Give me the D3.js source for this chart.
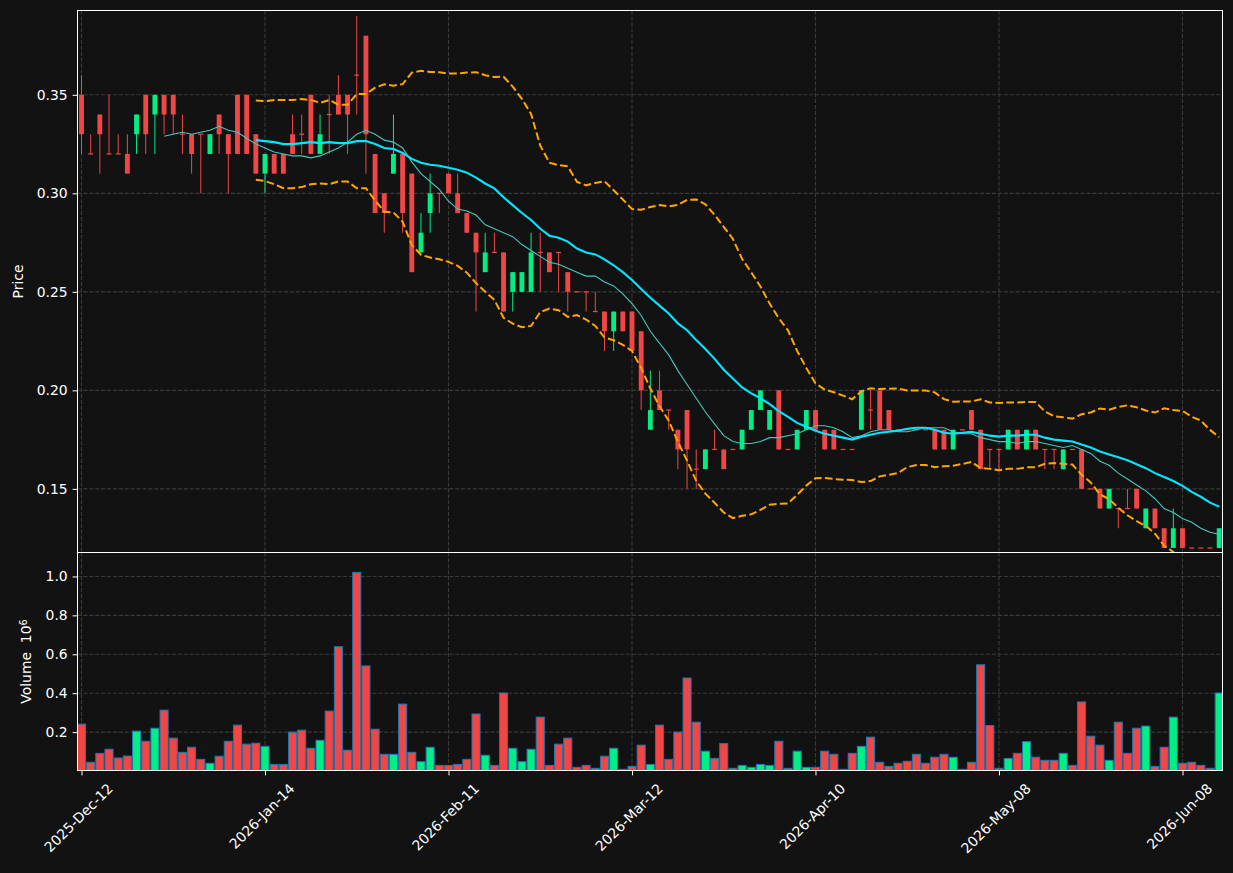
<!DOCTYPE html>
<html><head><meta charset="utf-8">
<script src="https://cdn.jsdelivr.net/npm/d3@7"></script>
<style>html,body{margin:0;padding:0;background:#121212;}svg{display:block;}</style>
</head><body><svg id="chart" width="1233" height="873"></svg>
<script>
// ---- DATA (daily candles, index 0 = 2025-Dec-12) ----
const opens  = [0.35,0.32,0.34,0.32,0.32,0.32,0.33,0.35,0.34,0.35, 0.35,0.33,0.33,0.33,0.32,0.34,0.33,0.35,0.35,0.33,
                0.31,0.32,0.32,0.33,0.33,0.35,0.32,0.34,0.35,0.35, 0.36,0.38,0.32,0.30,0.31,0.32,0.31,0.27,0.29,0.30,
                0.31,0.30,0.29,0.28,0.26,0.27,0.27,0.25,0.25,0.25, 0.27,0.27,0.27,0.26,0.25,0.25,0.24,0.24,0.23,0.24,
                0.24,0.23,0.18,0.20,0.19,0.18,0.19,0.16,0.16,0.17, 0.17,0.17,0.17,0.18,0.19,0.18,0.20,0.17,0.17,0.18,
                0.19,0.18,0.18,0.17,0.17,0.18,0.19,0.20,0.19,0.18, 0.18,0.18,0.18,0.18,0.18,0.17,0.18,0.19,0.18,0.17,
                0.17,0.17,0.18,0.17,0.18,0.17,0.17,0.16,0.17,0.17, 0.15,0.15,0.14,0.14,0.14,0.15,0.13,0.14,0.13,0.12,
                0.13,0.12,0.12,0.12,0.12];
const highs  = [0.36,0.33,0.34,0.35,0.33,0.33,0.34,0.35,0.35,0.35, 0.35,0.34,0.33,0.33,0.33,0.34,0.33,0.35,0.35,0.33,
                0.32,0.32,0.32,0.34,0.34,0.35,0.34,0.35,0.36,0.35, 0.39,0.38,0.32,0.30,0.34,0.32,0.31,0.29,0.31,0.30,
                0.31,0.31,0.29,0.28,0.28,0.28,0.27,0.26,0.26,0.28, 0.28,0.27,0.27,0.26,0.25,0.25,0.25,0.24,0.24,0.24,
                0.24,0.23,0.21,0.21,0.19,0.18,0.19,0.17,0.17,0.18, 0.17,0.17,0.18,0.19,0.20,0.19,0.20,0.17,0.18,0.19,
                0.19,0.18,0.18,0.17,0.17,0.20,0.20,0.20,0.19,0.18, 0.18,0.18,0.18,0.18,0.18,0.18,0.18,0.19,0.18,0.17,
                0.17,0.18,0.18,0.18,0.18,0.17,0.17,0.17,0.17,0.17, 0.15,0.15,0.15,0.14,0.15,0.15,0.14,0.14,0.13,0.14,
                0.13,0.12,0.12,0.12,0.13];
const lows   = [0.32,0.32,0.31,0.32,0.32,0.31,0.32,0.32,0.32,0.33, 0.33,0.32,0.31,0.30,0.32,0.32,0.30,0.32,0.32,0.31,
                0.30,0.31,0.31,0.32,0.32,0.32,0.32,0.32,0.34,0.32, 0.34,0.31,0.29,0.28,0.31,0.28,0.26,0.27,0.28,0.29,
                0.30,0.29,0.28,0.24,0.26,0.27,0.24,0.24,0.25,0.25, 0.25,0.26,0.25,0.24,0.25,0.24,0.24,0.22,0.22,0.23,
                0.22,0.19,0.18,0.19,0.18,0.16,0.15,0.15,0.16,0.17, 0.16,0.17,0.17,0.18,0.19,0.18,0.17,0.17,0.17,0.18,
                0.18,0.17,0.17,0.17,0.17,0.18,0.18,0.18,0.18,0.18, 0.18,0.18,0.18,0.17,0.17,0.17,0.18,0.18,0.16,0.16,
                0.16,0.17,0.17,0.17,0.17,0.16,0.16,0.16,0.17,0.15, 0.15,0.14,0.14,0.13,0.14,0.14,0.13,0.13,0.12,0.12,
                0.12,0.12,0.12,0.12,0.12];
const closes = [0.33,0.32,0.33,0.32,0.32,0.31,0.34,0.33,0.35,0.34, 0.34,0.33,0.32,0.33,0.33,0.33,0.32,0.32,0.32,0.31,
                0.32,0.31,0.31,0.32,0.33,0.32,0.33,0.34,0.34,0.34, 0.36,0.33,0.29,0.29,0.32,0.29,0.26,0.28,0.30,0.30,
                0.30,0.29,0.28,0.27,0.27,0.27,0.24,0.26,0.26,0.27, 0.27,0.26,0.27,0.25,0.25,0.25,0.24,0.23,0.24,0.23,
                0.22,0.20,0.19,0.19,0.19,0.17,0.17,0.16,0.17,0.17, 0.16,0.17,0.18,0.19,0.20,0.19,0.17,0.17,0.18,0.19,
                0.18,0.17,0.17,0.17,0.17,0.20,0.19,0.18,0.18,0.18, 0.18,0.18,0.18,0.17,0.17,0.18,0.18,0.18,0.16,0.17,
                0.17,0.18,0.17,0.18,0.17,0.17,0.17,0.17,0.17,0.15, 0.15,0.14,0.15,0.14,0.14,0.14,0.14,0.13,0.12,0.13,
                0.12,0.12,0.12,0.12,0.13];
// volume in millions of shares
const volumes = [0.241,0.045,0.091,0.112,0.067,0.077,0.205,0.153,0.220,0.313, 0.169,0.096,0.122,0.060,0.040,0.076,0.153,0.236,0.138,0.143,
                 0.127,0.034,0.034,0.200,0.210,0.117,0.158,0.308,0.639,0.107, 1.021,0.540,0.215,0.086,0.086,0.344,0.096,0.048,0.122,0.029,
                 0.029,0.034,0.060,0.293,0.081,0.029,0.401,0.117,0.048,0.112, 0.277,0.029,0.138,0.169,0.019,0.029,0.014,0.076,0.117,0.009,
                 0.024,0.133,0.034,0.236,0.060,0.200,0.478,0.251,0.102,0.065, 0.141,0.014,0.029,0.019,0.034,0.029,0.153,0.014,0.102,0.019,
                 0.019,0.102,0.086,0.009,0.091,0.127,0.174,0.045,0.024,0.040, 0.050,0.086,0.040,0.071,0.086,0.071,0.009,0.045,0.546,0.234,
                 0.014,0.065,0.091,0.151,0.071,0.055,0.055,0.091,0.029,0.355, 0.179,0.133,0.055,0.251,0.091,0.220,0.231,0.024,0.122,0.277,
                 0.040,0.045,0.029,0.014,0.401];
const tickIndex  = [0,20,40,60,80,100,120];
const tickLabels = ['2025-Dec-12','2026-Jan-14','2026-Feb-11','2026-Mar-12','2026-Apr-10','2026-May-08','2026-Jun-08'];
const priceTicks = [0.15,0.20,0.25,0.30,0.35];
const volumeTicks = [0.2,0.4,0.6,0.8,1.0];
const maShort = 10, maLong = 20, bbPeriod = 20, bbK = 2;

// ---- LAYOUT ----
const L = 77.5, R = 1222.5;
const pTop = 10.5, pBot = 552.5, vTop = 552.5, vBot = 770.5;
const UP = '#00ee84', DOWN = '#f04646';
const FONT = 'DejaVu Sans, sans-serif', FS = 13.9;
const svg = d3.select('#chart');
svg.append('rect').attr('width',1233).attr('height',873).attr('fill','#121212');

const n = closes.length;
const x = d3.scaleLinear().domain([-0.436, 124.36]).range([L, R]);
const step = x(1) - x(0);
const y = d3.scaleLinear().domain([0.1177, 0.3928]).range([pBot, pTop]);
const vmin = 0.3*d3.min(volumes), vmax = 1.1*d3.max(volumes);
const yv = d3.scaleLinear().domain([vmin, vmax]).range([vBot, vTop]);

const defs = svg.append('defs');
defs.append('clipPath').attr('id','pclip').append('rect').attr('x',L).attr('y',pTop).attr('width',R-L).attr('height',pBot-pTop);
defs.append('clipPath').attr('id','vclip').append('rect').attr('x',L).attr('y',vTop).attr('width',R-L).attr('height',vBot-vTop);

const gridC = '#3a3a3a';
function grid(g, ys, yscale, y0, y1){
  g.selectAll('.hg').data(ys).join('line').attr('x1',L).attr('x2',R)
    .attr('y1',d=>yscale(d)).attr('y2',d=>yscale(d))
    .attr('stroke',gridC).attr('stroke-width',1.1).attr('stroke-dasharray','4.1,1.8');
  g.selectAll('.vg').data(tickIndex).join('line').attr('class','vg').attr('y1',y0).attr('y2',y1)
    .attr('x1',d=>x(d)).attr('x2',d=>x(d))
    .attr('stroke',gridC).attr('stroke-width',1.1).attr('stroke-dasharray','4.1,1.8');
}
grid(svg.append('g'), priceTicks, y, pTop, pBot);
grid(svg.append('g'), volumeTicks, yv, vTop, vBot);

// ---- candles ----
const idx = d3.range(n);
const cg = svg.append('g').attr('clip-path','url(#pclip)');
const col = i => opens[i] < closes[i] ? UP : DOWN;
cg.selectAll('line.w').data(idx).join('line').attr('class','w')
  .attr('x1',i=>x(i)).attr('x2',i=>x(i)).attr('y1',i=>y(highs[i])).attr('y2',i=>y(lows[i]))
  .attr('stroke',col).attr('stroke-width',1);
const bw = step*0.53;
cg.selectAll('rect.b').data(idx).join('rect').attr('class','b')
  .attr('x',i=>x(i)-bw/2).attr('width',bw)
  .attr('y',i=>y(Math.max(opens[i],closes[i])) - (opens[i]===closes[i]?0.6:0))
  .attr('height',i=>Math.max(1.2, Math.abs(y(opens[i])-y(closes[i]))))
  .attr('fill',col);

// ---- moving averages & bollinger ----
function sma(arr,p){return arr.map((v,i)=> i<p-1?null:d3.mean(arr.slice(i-p+1,i+1)));}
function pstd(a){const m=d3.mean(a);return Math.sqrt(d3.mean(a.map(v=>(v-m)*(v-m))));}
const ma10 = sma(closes, maShort), ma20 = sma(closes, maLong);
const bbUp = closes.map((v,i)=> i<bbPeriod-1?null: ma20[i] + bbK*pstd(closes.slice(i-bbPeriod+1,i+1)));
const bbLo = closes.map((v,i)=> i<bbPeriod-1?null: ma20[i] - bbK*pstd(closes.slice(i-bbPeriod+1,i+1)));
const line = d3.line().defined(d=>d!=null).x((d,i)=>x(i)).y(d=>y(d));
cg.append('path').attr('d',line(ma10)).attr('fill','none').attr('stroke','#45c8bd').attr('stroke-width',1.1);
cg.append('path').attr('d',line(ma20)).attr('fill','none').attr('stroke','#00e8ff').attr('stroke-width',2.1);
[bbUp,bbLo].forEach(b=>cg.append('path').attr('d',line(b)).attr('fill','none').attr('stroke','#ffa500')
  .attr('stroke-width',2).attr('stroke-dasharray','7.7,3.3'));

// ---- volume ----
const vg = svg.append('g').attr('clip-path','url(#vclip)');
const vw = step*0.88;
vg.selectAll('rect').data(idx).join('rect')
  .attr('x',i=>x(i)-vw/2).attr('width',vw)
  .attr('y',i=>yv(volumes[i])).attr('height',i=>Math.max(0,yv(vmin)-yv(volumes[i])))
  .attr('fill',col).attr('stroke','#1f77b4').attr('stroke-width',1);

// ---- spines ----
[[pTop,pBot],[vTop,vBot]].forEach(([a,b])=>svg.append('rect').attr('x',L).attr('y',a).attr('width',R-L).attr('height',b-a)
  .attr('fill','none').attr('stroke','#ffffff').attr('stroke-width',1).attr('shape-rendering','crispEdges'));

// ---- axes ----
function styleAxis(g){
  g.select('.domain').remove();
  g.selectAll('line').attr('stroke','#ffffff').attr('stroke-width',1);
  g.selectAll('text').attr('fill','#ffffff').style('font-family',FONT).style('font-size',FS+'px');
}
svg.append('g').attr('transform',`translate(${L},0)`)
  .call(d3.axisLeft(y).tickValues(priceTicks).tickFormat(d3.format('.2f')).tickSize(4.9).tickPadding(4.9)).call(styleAxis);
svg.append('g').attr('transform',`translate(${L},0)`)
  .call(d3.axisLeft(yv).tickValues(volumeTicks).tickFormat(d3.format('.1f')).tickSize(4.9).tickPadding(4.9)).call(styleAxis);
const xa = svg.append('g').attr('transform',`translate(0,${vBot})`)
  .call(d3.axisBottom(x).tickValues(tickIndex).tickFormat('').tickSize(4.9));
styleAxis(xa);
// rotated date labels
const xl = svg.append('g');
tickIndex.forEach((t,k)=>{
  const tx = xl.append('text').text(tickLabels[k]).attr('fill','#fff')
    .style('font-family',FONT).style('font-size',FS+'px').attr('text-anchor','middle').attr('dy','0.35em');
  const len = tx.node().getComputedTextLength();
  const half = (len + FS*1.16)*Math.SQRT1_2/2;
  tx.attr('transform',`translate(${x(t)-3},${vBot+9.8+half}) rotate(-45)`);
});

// axis titles
svg.append('text').text('Price').attr('fill','#fff').style('font-family',FONT).style('font-size',FS+'px')
  .attr('text-anchor','middle').attr('transform',`translate(23,${(pTop+pBot)/2}) rotate(-90)`);
const vt = svg.append('text').attr('fill','#fff').style('font-family',FONT).style('font-size',FS+'px')
  .attr('text-anchor','middle').attr('transform',`translate(31,${(vTop+vBot)/2}) rotate(-90)`);
vt.append('tspan').text('Volume\u00a0\u00a010');
vt.append('tspan').text('6').attr('dy','-0.45em').style('font-size',(FS*0.7)+'px');
</script></body></html>
